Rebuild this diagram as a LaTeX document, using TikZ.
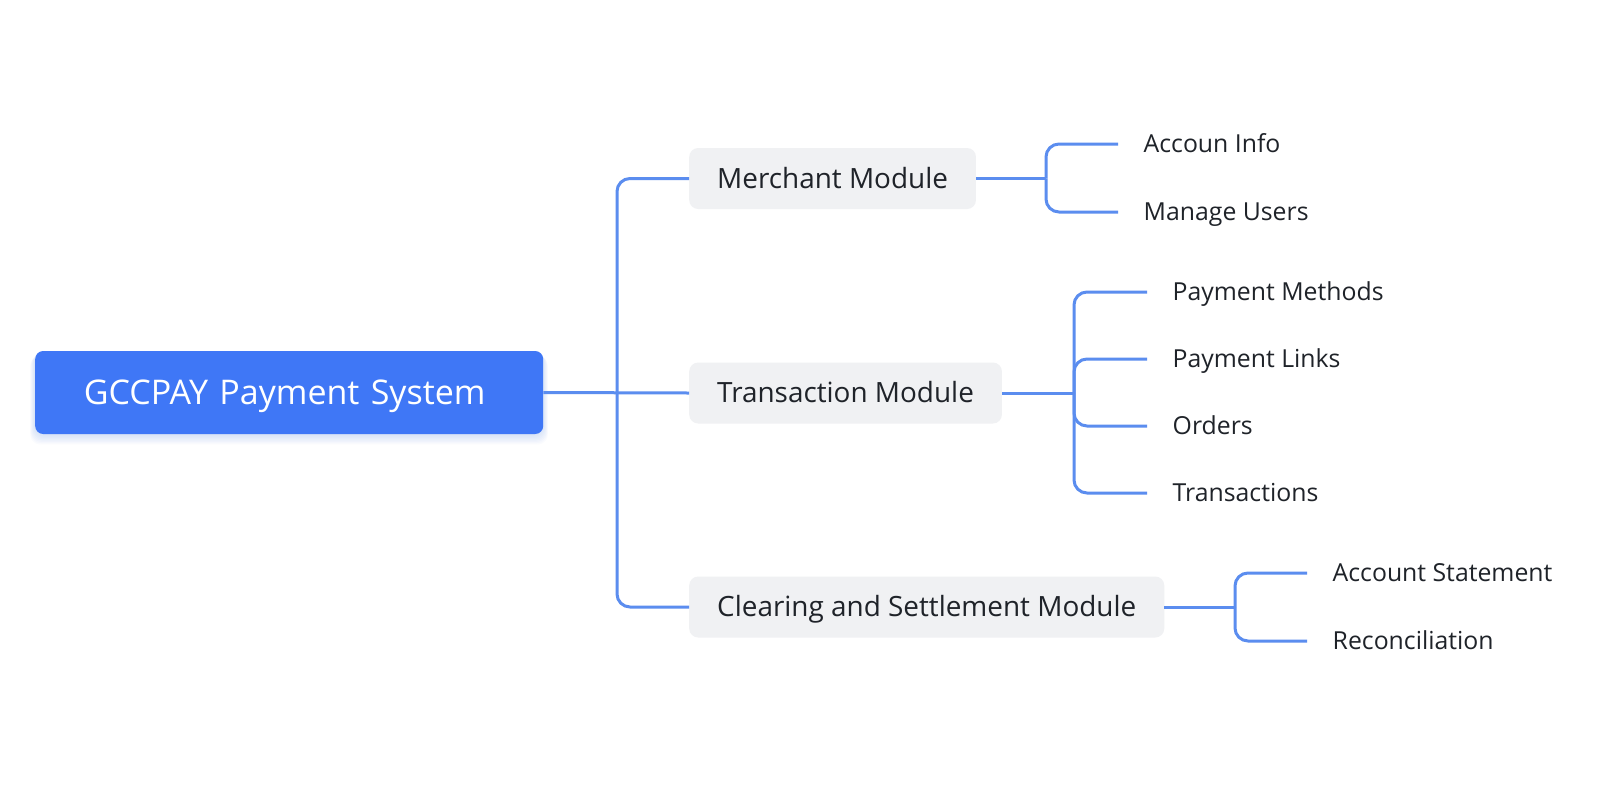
\documentclass[tikz,border=0pt]{standalone}
\usepackage{fontspec}
\setmainfont{Open Sans}
\definecolor{linec}{RGB}{91,141,239}
\definecolor{rootc}{RGB}{63,119,246}
\definecolor{modc}{RGB}{240,241,243}
\definecolor{txtc}{RGB}{31,35,41}
\begin{document}
\begin{tikzpicture}[x=1pt,y=-1pt,
  rootbox/.style={rectangle, rounded corners=8pt, fill=rootc, text=white,
    minimum height=83pt, inner xsep=48.6pt, inner ysep=0pt,
    text width=410.8pt, align=left, anchor=west,
    font=\fontsize{34}{40}\selectfont, text height=24.3pt, text depth=0pt},
  modbox/.style={rectangle, rounded corners=9pt, fill=modc, text=txtc,
    minimum height=61pt, inner xsep=28pt, anchor=west,
    font=\fontsize{27.9}{32}\selectfont, text height=19.9pt, text depth=0pt},
  leaf/.style={anchor=west, inner xsep=25.5pt, inner ysep=0pt, text=txtc,
    font=\fontsize{24.8}{30}\selectfont, text height=17.7pt, text depth=0pt},
  conn/.style={draw=linec, line width=3pt},
  elbow/.style={conn, rounded corners=13pt}
]
\useasboundingbox[fill=white] (0,0) rectangle (1618,788);

% soft shadow of the root box
\foreach \i in {1,...,8}{
  \fill[rootc, opacity=0.025, rounded corners=10pt]
    (35-\i*0.6, 351+\i*0.6) rectangle (543+\i*0.6, 434+\i*1.3);
}

\node[rootbox] (root) at (35,392.5) {GCCPAY Payment System};

\node[modbox] (m1) at (689,178.5) {Merchant Module};
\node[modbox] (m2) at (689,393) {Transaction Module};
\node[modbox] (m3) at (689,607) {Clearing and Settlement Module};

\coordinate (trunk) at (617,393);

\draw[conn] (root.east) -- (m2.west);
\draw[elbow] (trunk) |- (m1.west);
\draw[elbow] (trunk) |- (m3.west);

% Merchant children
\node[leaf] (a1) at (1118,144) {Accoun Info};
\node[leaf] (a2) at (1118,212) {Manage Users};
\coordinate (ja) at (1046,178.5);
\draw[conn] (m1.east) -- (ja);
\draw[elbow] (ja) |- (a1.west);
\draw[elbow] (ja) |- (a2.west);

% Transaction children
\node[leaf] (b1) at (1147,292) {Payment Methods};
\node[leaf] (b2) at (1147,359) {Payment Links};
\node[leaf] (b3) at (1147,426) {Orders};
\node[leaf] (b4) at (1147,493) {Transactions};
\coordinate (jb) at (1074,393);
\draw[conn] (m2.east) -- (jb);
\draw[elbow] (jb) |- (b1.west);
\draw[elbow] (jb) |- (b2.west);
\draw[elbow] (jb) |- (b3.west);
\draw[elbow] (jb) |- (b4.west);

% Clearing children
\node[leaf] (c1) at (1307,573) {Account Statement};
\node[leaf] (c2) at (1307,641) {Reconciliation};
\coordinate (jc) at (1235,607);
\draw[conn] (m3.east) -- (jc);
\draw[elbow] (jc) |- (c1.west);
\draw[elbow] (jc) |- (c2.west);
\end{tikzpicture}
\end{document}
